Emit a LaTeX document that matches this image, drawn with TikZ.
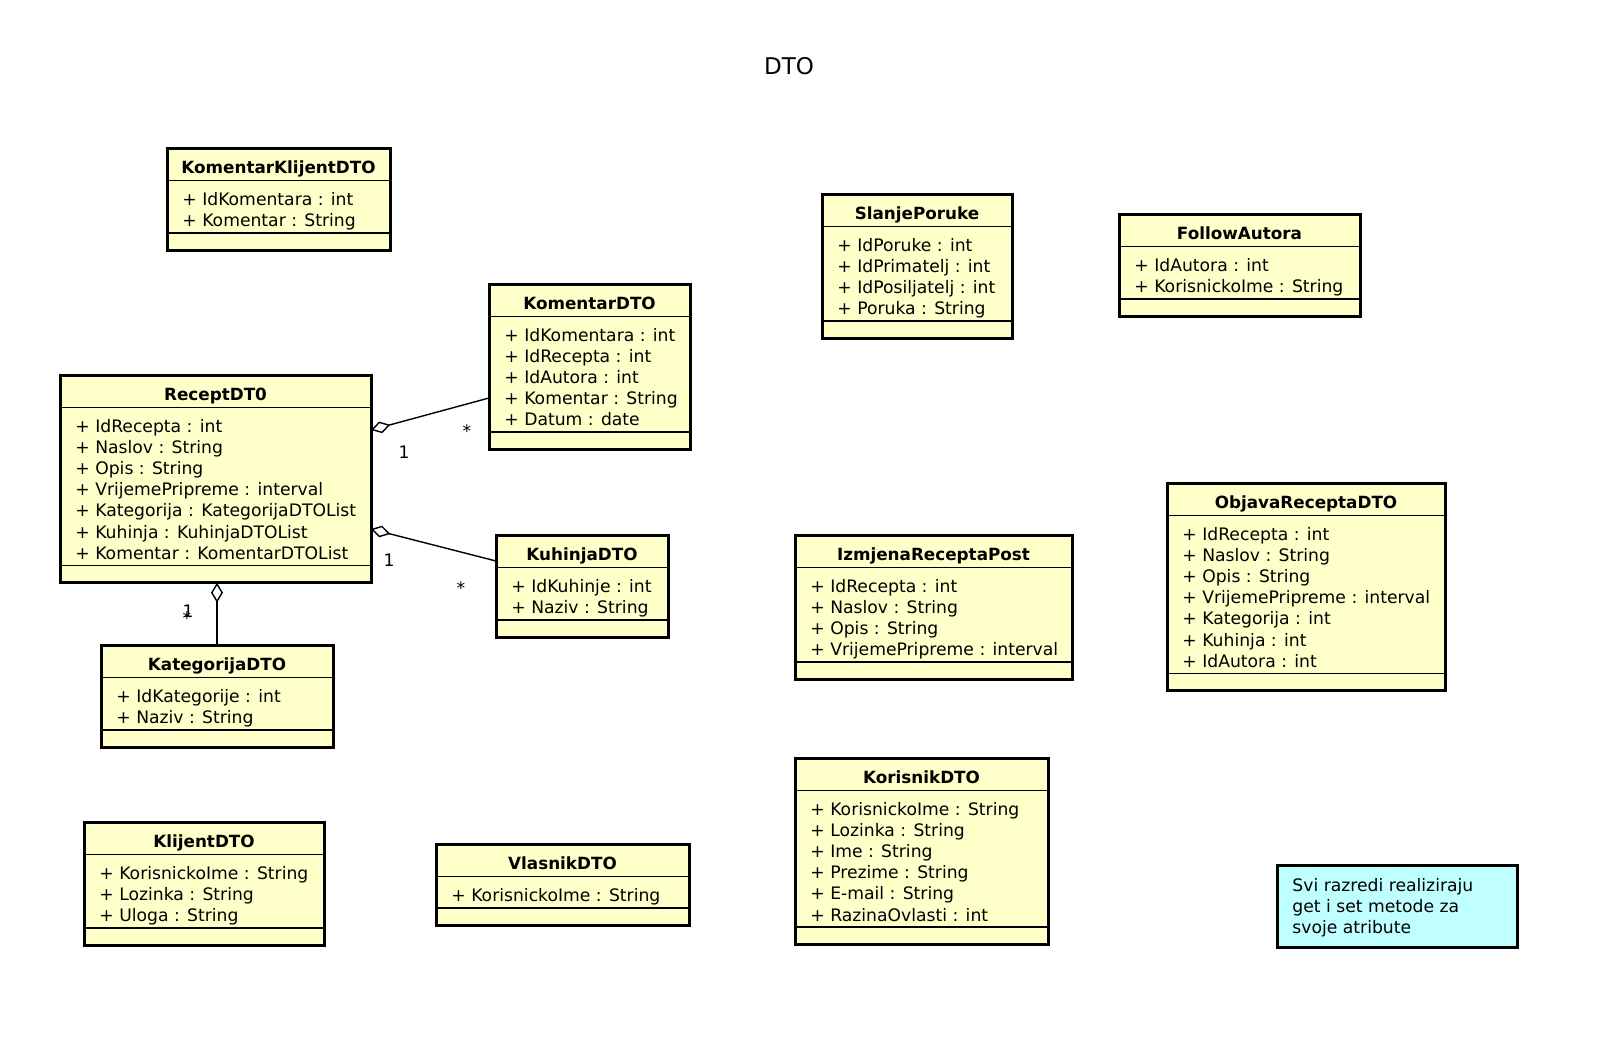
\documentclass[tikz,border=0pt]{standalone}
\usepackage{fontspec}
\setmainfont{DejaVu Sans}
\usetikzlibrary{arrows.meta, calc, fit}

\definecolor{clsfill}{RGB}{255,255,202}
\definecolor{notefill}{RGB}{192,255,255}

\tikzset{
  classbox/.style={draw, line width=1.5pt, fill=clsfill, inner sep=0pt, outer sep=0pt},
  notebox/.style={draw, line width=1.5pt, fill=notefill, inner sep=0pt, outer sep=0pt},
  sepline/.style={line width=0.9pt},
  classname/.style={anchor=base, inner sep=0pt, font=\fontsize{8.4}{10}\selectfont\bfseries},
  attr/.style={anchor=base west, inner sep=0pt, font=\fontsize{8.6}{10}\selectfont},
  mult/.style={inner sep=0pt, font=\fontsize{8.6}{10}\selectfont},
  agg/.style={line width=0.7pt, {Diamond[open, length=10pt, width=6pt]}-},
}

% name, x, y, width, number of attributes, title, attributes
\newcommand{\umlclass}[7]{%
  \pgfmathsetmacro{\clsh}{81.1+21.1*(#5-1)}
  \node[classbox, fit={(#2,#3) (#2+#4,#3+\clsh)}] (#1) {};
  \draw[sepline] (#1.north west) ++(0,32.5) -- ++(#4,0);
  \draw[sepline] (#1.south west) ++(0,-17.3) -- ++(#4,0);
  \node[classname] (#1-name) at (#2+#4/2,#3+25.5) {#6};
  \foreach \a [count=\i] in {#7}
    \node[attr] (#1-a\i) at (#2+15,#3+57.5+21.1*\i-21.1) {\a};
}

\begin{document}
\begin{tikzpicture}[x=0.5pt, y=-0.5pt]
\useasboundingbox (0,0) rectangle (1600,1044);

\node[font=\fontsize{11.5}{12}\selectfont] (title) at (789,66) {DTO};

\umlclass{komentarklijent}{167}{148}{223}{2}{KomentarKlijentDTO}{+ IdKomentara : int, + Komentar : String}
\umlclass{komentar}{489}{284}{201}{5}{KomentarDTO}{+ IdKomentara : int, + IdRecepta : int, + IdAutora : int, + Komentar : String, + Datum : date}
\umlclass{recept}{60}{375}{311}{7}{ReceptDT0}{+ IdRecepta : int, + Naslov : String, + Opis : String, + VrijemePripreme : interval, + Kategorija : KategorijaDTOList, + Kuhinja : KuhinjaDTOList, + Komentar : KomentarDTOList}
\umlclass{kuhinja}{496}{535}{172}{2}{KuhinjaDTO}{+ IdKuhinje : int, + Naziv : String}
\umlclass{kategorija}{101}{645}{232}{2}{KategorijaDTO}{+ IdKategorije : int, + Naziv : String}
\umlclass{klijent}{84}{822}{240}{3}{KlijentDTO}{+ KorisnickoIme : String, + Lozinka : String, + Uloga : String}
\umlclass{vlasnik}{436}{844}{253}{1}{VlasnikDTO}{+ KorisnickoIme : String}
\umlclass{slanje}{822}{194}{190}{4}{SlanjePoruke}{+ IdPoruke : int, + IdPrimatelj : int, + IdPosiljatelj : int, + Poruka : String}
\umlclass{follow}{1119}{214}{241}{2}{FollowAutora}{+ IdAutora : int, + KorisnickoIme : String}
\umlclass{izmjena}{795}{535}{277}{4}{IzmjenaReceptaPost}{+ IdRecepta : int, + Naslov : String, + Opis : String, + VrijemePripreme : interval}
\umlclass{objava}{1167}{483}{278}{7}{ObjavaReceptaDTO}{+ IdRecepta : int, + Naslov : String, + Opis : String, + VrijemePripreme : interval, + Kategorija : int, + Kuhinja : int, + IdAutora : int}
\umlclass{korisnik}{795}{758}{253}{6}{KorisnikDTO}{+ KorisnickoIme : String, + Lozinka : String, + Ime : String, + Prezime : String, + E-mail : String, + RazinaOvlasti : int}

\node[notebox, fit={(1277,865) (1517,947)}] (note) {};
\foreach \l [count=\i] in {Svi razredi realiziraju, get i set metode za, svoje atribute}
  \node[attr] (note-l\i) at (1292,870+21.1*\i) {\l};

\draw[agg] ($(recept.north east)+(0,55)$) -- ($(komentar.north west)+(0,114)$);
\draw[agg] ($(recept.north east)+(0,154)$) -- ($(kuhinja.north west)+(0,26)$);
\draw[agg] (kategorija.north |- recept.south) -- (kategorija.north);

\node[mult] (kom-m1) at (404,452) {1};
\node[mult] (kom-m2) at (467,431) {*};
\node[mult] (kuh-m1) at (389,560) {1};
\node[mult] (kuh-m2) at (461,588) {*};
\node[mult] (kat-m1) at (188,611) {1};
\node[mult] (kat-m2) at (187,618) {*};
\end{tikzpicture}
\end{document}
